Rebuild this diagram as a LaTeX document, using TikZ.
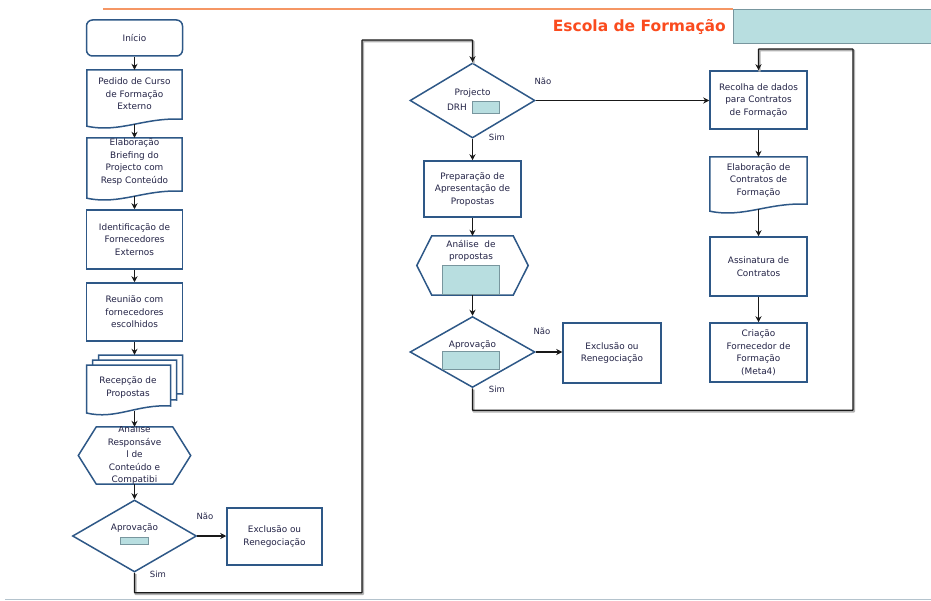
\documentclass[tikz,border=0pt]{standalone}
\usepackage{fontspec}
\setmainfont{DejaVu Sans}
\usetikzlibrary{arrows.meta,shapes.geometric,calc}

\definecolor{boxblue}{RGB}{46,88,135}
\definecolor{txtc}{RGB}{35,35,70}
\definecolor{linec}{RGB}{25,25,25}
\definecolor{tealfill}{RGB}{184,222,224}
\definecolor{tealdraw}{RGB}{120,150,158}
\definecolor{rulec}{RGB}{245,150,100}
\definecolor{titlec}{RGB}{250,75,30}
\definecolor{footc}{RGB}{180,195,205}

\newcommand\bodyfont{\fontsize{8.9}{12.5}\selectfont}
\newcommand\ynfont{\fontsize{8.5}{10}\selectfont}

% document outline (wavy bottom) around a named node
\newcommand\drawdoc[1]{%
  \draw[box] (#1.north west) -- (#1.north east) -- ($(#1.south east)+(0,-5)$)
    .. controls ($(#1.south west)!0.6!(#1.south east)+(0,-7)$)
    and ($(#1.south west)!0.35!(#1.south east)+(0,9)$)
    .. ($(#1.south west)+(0,2)$) -- cycle;}
% document outline from left, top, right and bottom values
\newcommand\drawdocxy[4]{%
  \draw[box] (#1,#2) -- (#3,#2) -- (#3,#4-5)
    .. controls ({#1+0.6*(#3-#1)},#4-7) and ({#1+0.35*(#3-#1)},#4+9)
    .. (#1,#4+2) -- cycle;}
% hexagon around a named node
\newcommand\drawhex[2]{%
  \draw[box] (#1.west) -- ($(#1.north west)+(#2,0)$) -- ($(#1.north east)+(-#2,0)$)
    -- (#1.east) -- ($(#1.south east)+(-#2,0)$) -- ($(#1.south west)+(#2,0)$) -- cycle;}

\tikzset{
  box/.style={draw=boxblue, line width=1.5pt, fill=white, line join=miter},
  rectbox/.style={box, rectangle, inner sep=0pt, minimum width=96pt,
    minimum height=58pt, align=center, font=\bodyfont, text=txtc},
  shapebox/.style={rectangle, inner sep=0pt, minimum width=96pt, minimum height=58pt},
  decision/.style={box, diamond, inner sep=0pt, minimum width=125pt, minimum height=72pt},
  txt/.style={align=center, font=\bodyfont, text=txtc, inner sep=0pt},
  yn/.style={font=\ynfont, text=txtc, inner sep=0pt},
  tealbox/.style={draw=tealdraw, fill=tealfill, line width=0.8pt, inner sep=0pt},
  flow/.style={draw=linec, line width=1.2pt, -{Stealth[length=6pt,width=6pt]}},
  loopline/.style={flow, rounded corners=0.5pt,
    preaction={draw=black!30, line width=2.2pt, -, transform canvas={shift={(0.9pt,-1.3pt)}}}},
}

\begin{document}
\begin{tikzpicture}[x=1pt, y=-1pt]
\path[use as bounding box] (0,0) rectangle (931,601);

% heading band
\draw[rulec, line width=2.2pt] (103,9) -- (733,9);
\node[tealbox, draw=tealdraw, anchor=north west, minimum width=200pt, minimum height=34pt] (band) at (733,9) {};
\node[anchor=east, inner sep=0pt, text=titlec, font=\fontsize{15.5}{17}\selectfont\bfseries] (titulo) at (726,27) {Escola de Formação};
\draw[footc, line width=1.2pt] (5,599.5) -- (931,599.5);

% ---------- left column ----------
\node[rectbox, rounded corners=6pt, minimum height=36pt] (inicio) at (134.5,38) {Início};

\node[shapebox, minimum width=95pt, minimum height=54pt] (pedido) at (134.5,97) {};
\drawdoc{pedido}
\node[txt] (pedidoT) at (134.5,94) {Pedido de Curso\\de Formação\\Externo};

\node[shapebox, minimum width=95pt, minimum height=58pt] (brief) at (134.5,167) {};
\drawdoc{brief}
\node[txt] (briefT) at (134.5,162) {Elaboração\\Briefing do\\Projecto com\\Resp Conteúdo};

\node[rectbox, minimum height=59pt] (ident) at (134.5,239.5) {Identificação\ de\\Fornecedores\\Externos};
\node[rectbox] (reuniao) at (134.5,312) {Reunião com\\fornecedores\\escolhidos};

\node[shapebox, minimum height=56pt] (recepcao) at (134.5,383) {};
\drawdocxy{98.5}{355}{182.5}{399}
\drawdocxy{92.5}{360}{176.5}{405}
\drawdocxy{86.5}{365}{170.5}{411}
\node[txt] (recepcaoT) at (128,387.5) {Recepção\ de\\Propostas};

\node[shapebox, minimum width=112pt, minimum height=57pt] (analise1) at (134.5,455.5) {};
\drawhex{analise1}{18}
\begin{scope}
  \clip (analise1.north west) rectangle (analise1.south east);
  \node[txt] (analise1T) at (134.5,455) {Análise\\Responsáve\\l de\\Conteúdo e\\Compatibi};
\end{scope}

\node[decision, minimum width=124pt] (aprov1) at (134.5,536) {};
\node[txt] (aprov1T) at (134.5,528) {Aprovação};
\node[tealbox, minimum width=28pt, minimum height=7pt] (aprov1B) at (134.5,540.5) {};
\node[yn] (nao1) at (205,516) {Não};
\node[yn] (sim1) at (158,574) {Sim};
\node[rectbox, minimum width=95pt, minimum height=57pt] (excl1) at (274.5,536.5) {Exclusão ou\\Renegociação};

% ---------- middle column ----------
\node[decision, minimum height=75pt] (projecto) at (472.5,100.5) {};
\node[txt] (projectoT) at (472.5,93) {Projecto};
\node[txt] (drhT) at (457,107) {DRH};
\node[tealbox, minimum width=27pt, minimum height=12pt] (drhB) at (485.5,107) {};
\node[yn] (nao2) at (543,81) {Não};
\node[yn] (sim2) at (497,137) {Sim};

\node[rectbox, minimum width=97pt, minimum height=56pt] (prep) at (472.5,189) {Preparação de\\Apresentação de\\Propostas};

\node[shapebox, minimum width=111pt, minimum height=59pt] (analise2) at (472.5,265.5) {};
\drawhex{analise2}{15}
\node[txt] (analise2T) at (471,251) {Análise\ \ de\\propostas};
\node[tealbox, minimum width=57pt, minimum height=29pt] (analise2B) at (470.5,279.5) {};

\node[decision, minimum height=71pt] (aprov2) at (472.5,352) {};
\node[txt] (aprov2T) at (472.5,345) {Aprovação};
\node[tealbox, minimum width=57pt, minimum height=18pt] (aprov2B) at (470.5,360) {};
\node[yn] (nao3) at (542,331) {Não};
\node[yn] (sim3) at (497,389) {Sim};
\node[rectbox, minimum width=98pt, minimum height=60pt] (excl2) at (612,353) {Exclusão ou\\Renegociação};

% ---------- right column ----------
\node[rectbox, minimum width=97pt] (recolha) at (758.5,100) {Recolha de dados\\para Contratos\\de Formação};
\node[shapebox, minimum width=97pt, minimum height=52pt] (elab2) at (758.5,183) {};
\drawdoc{elab2}
\node[txt] (elab2T) at (758.5,180) {Elaboração de\\Contratos de\\Formação};
\node[rectbox, minimum width=97pt, minimum height=59pt] (assin) at (758.5,266.5) {Assinatura de\\Contratos};
\node[rectbox, minimum width=97pt, minimum height=59pt] (criacao) at (758.5,352.5) {Criação\\Fornecedor de\\Formação\\(Meta4)};

% ---------- connectors ----------
\draw[flow] (inicio) -- (pedido);
\draw[flow] (pedido) -- (brief);
\draw[flow] (brief) -- (ident);
\draw[flow] (ident) -- (reuniao);
\draw[flow] (reuniao) -- (recepcao);
\draw[flow] (recepcao) -- (analise1);
\draw[flow] (analise1) -- (aprov1);
\draw[flow] (aprov1.east) -- (aprov1.east -| excl1.west);

\coordinate (turn1) at (362,40);
\draw[loopline] (aprov1.south) -- ++(0,20) -| (turn1) -| (projecto.north);

\draw[flow] (projecto.east) -- (projecto.east -| recolha.west);
\draw[flow] (projecto) -- (prep);
\draw[flow] (prep) -- (analise2);
\draw[flow] (analise2) -- (aprov2);
\draw[flow] (aprov2.east) -- (aprov2.east -| excl2.west);

\coordinate (turn2) at (853,49);
\draw[loopline] (aprov2.south) -- ++(0,22) -| (turn2) -| (recolha.north);

\draw[flow] (recolha) -- (elab2);
\draw[flow] (elab2) -- (assin);
\draw[flow] (assin) -- (criacao);
\end{tikzpicture}
\end{document}
